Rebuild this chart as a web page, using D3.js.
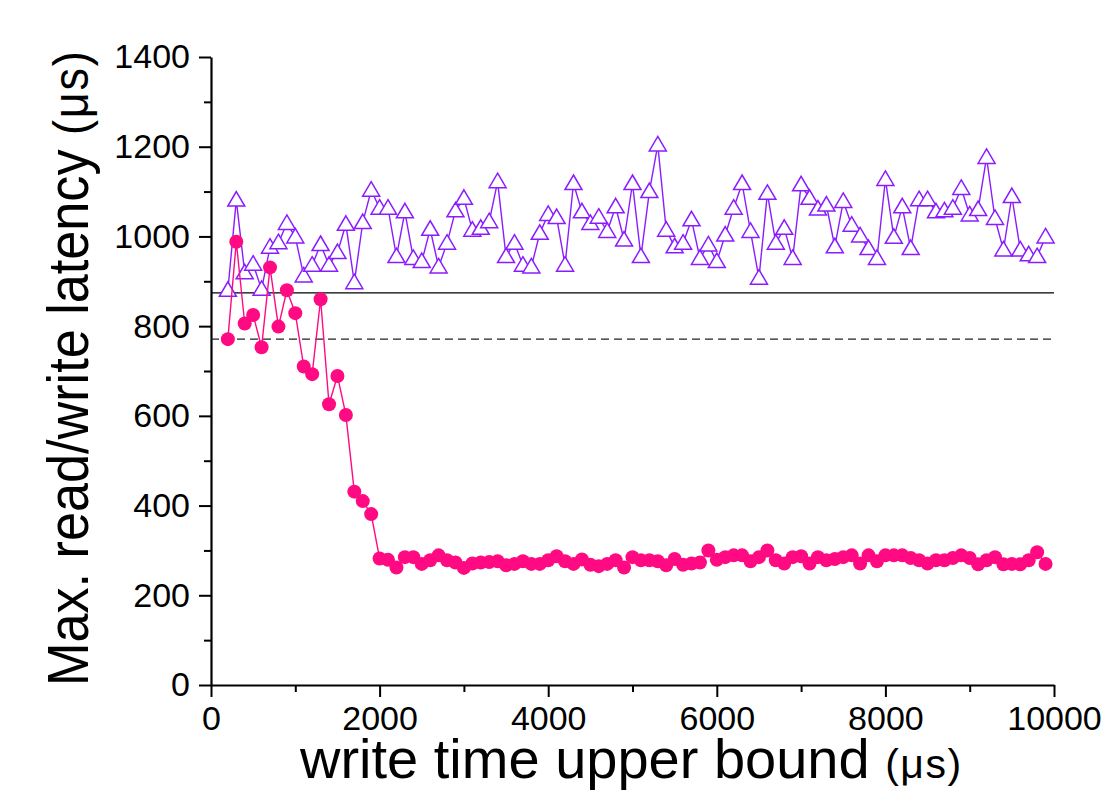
<!DOCTYPE html>
<html>
<head>
<meta charset="utf-8">
<script src="https://cdn.jsdelivr.net/npm/d3@7"></script>
<style>
	body { margin: 0; background: #fff; }
	svg text { font-family: "Liberation Sans", Arial, sans-serif; fill: #000; }
</style>
</head>
<body>
<svg id="grafica" width="1103" height="810"></svg>
<script>
// write time upper bound (x), one value every 100 us
var cotas = [200, 300, 400, 500, 600, 700, 800, 900, 1000, 1100, 1200, 1300, 1400, 1500, 1600, 1700, 1800, 1900,
	2000, 2100, 2200, 2300, 2400, 2500, 2600, 2700, 2800, 2900, 3000, 3100, 3200, 3300, 3400, 3500, 3600, 3700, 3800, 3900,
	4000, 4100, 4200, 4300, 4400, 4500, 4600, 4700, 4800, 4900, 5000, 5100, 5200, 5300, 5400, 5500, 5600, 5700, 5800, 5900,
	6000, 6100, 6200, 6300, 6400, 6500, 6600, 6700, 6800, 6900, 7000, 7100, 7200, 7300, 7400, 7500, 7600, 7700, 7800, 7900,
	8000, 8100, 8200, 8300, 8400, 8500, 8600, 8700, 8800, 8900, 9000, 9100, 9200, 9300, 9400, 9500, 9600, 9700, 9800, 9900];

// purple triangles
var triangulos = [880, 1081, 919, 938, 882, 976, 986, 1029, 999, 912, 936, 982, 936, 964, 1027, 897, 1031, 1103,
	1063, 1063, 955, 1055, 951, 944, 1016, 932, 985, 1057, 1085, 1014, 1018, 1033, 1122, 955, 985, 936, 932, 1007,
	1049, 1042, 936, 1118, 1055, 1029, 1043, 1011, 1066, 992, 1118, 955, 1100, 1204, 1014, 977, 985, 1037, 951, 981,
	944, 1003, 1063, 1118, 1011, 907, 1096, 985, 1018, 951, 1115, 1085, 1061, 1070, 977, 1078, 1025, 1001, 973, 951,
	1127, 998, 1066, 973, 1082, 1082, 1055, 1057, 1063, 1107, 1048, 1060, 1176, 1040, 970, 1089, 970, 959, 955, 999];

// pink dots
var circulos = [771, 988, 806, 825, 753, 931, 799, 880, 829, 710, 693, 860, 626, 689, 602, 431, 410, 381,
	282, 279, 262, 285, 285, 270, 278, 289, 278, 273, 261, 271, 273, 274, 276, 267, 270, 276, 270, 270,
	278, 287, 276, 270, 280, 268, 265, 270, 278, 262, 285, 278, 278, 276, 267, 281, 268, 271, 273, 300,
	279, 285, 289, 289, 276, 285, 300, 278, 271, 285, 287, 271, 285, 278, 281, 285, 289, 271, 289, 276,
	289, 289, 289, 283, 278, 271, 278, 278, 283, 289, 283, 269, 278, 285, 269, 270, 269, 278, 296, 270];

// reference levels (solid / dashed)
var lineaSolida = 874;
var lineaDiscontinua = 771;

var ticksX = [0, 2000, 4000, 6000, 8000, 10000];
var ticksXmenores = [1000, 3000, 5000, 7000, 9000];
var ticksY = [0, 200, 400, 600, 800, 1000, 1200, 1400];
var ticksYmenores = [100, 300, 500, 700, 900, 1100, 1300];

var colorMorado = "#8a1cff",
	colorRosa = "#ff0a82";

var sv = d3.select("#grafica");
var x = d3.scaleLinear().domain([0, 10000]).range([211, 1054]);
var y = d3.scaleLinear().domain([0, 1400]).range([685, 57]);

// minor ticks first so the axes draw on top
sv.append("g")
	.attr("transform", "translate(0,685)")
	.call(d3.axisBottom(x).tickValues(ticksXmenores).tickSize(7).tickFormat(""))
	.call(function(g){ g.select(".domain").remove(); })
	.selectAll("line").attr("stroke-width", 2);
sv.append("g")
	.attr("transform", "translate(211,0)")
	.call(d3.axisLeft(y).tickValues(ticksYmenores).tickSize(7).tickFormat(""))
	.call(function(g){ g.select(".domain").remove(); })
	.selectAll("line").attr("stroke-width", 2);

var ejeX = sv.append("g")
	.attr("transform", "translate(0,685)")
	.call(d3.axisBottom(x).tickValues(ticksX).tickSize(12).tickSizeOuter(0).tickPadding(9).tickFormat(d3.format("d")));
var ejeY = sv.append("g")
	.attr("transform", "translate(211,0)")
	.call(d3.axisLeft(y).tickValues(ticksY).tickSize(12).tickSizeOuter(0).tickPadding(9).tickFormat(d3.format("d")));

[ejeX, ejeY].forEach(function(e){
	e.select(".domain").attr("stroke-width", 2.2);
	e.selectAll(".tick line").attr("stroke-width", 2);
	e.selectAll(".tick text")
		.style("font-size", "34px")
		.style("font-family", "'Liberation Sans', Arial, sans-serif")
		.attr("fill", "#000");
});

// horizontal reference lines
sv.append("line")
	.attr("x1", x(0)).attr("x2", x(10000))
	.attr("y1", y(lineaSolida)).attr("y2", y(lineaSolida))
	.attr("stroke", "#000").attr("stroke-width", 1.3);
sv.append("line")
	.attr("x1", x(0)).attr("x2", x(10000))
	.attr("y1", y(lineaDiscontinua)).attr("y2", y(lineaDiscontinua))
	.attr("stroke", "#222").attr("stroke-width", 1.3)
	.attr("stroke-dasharray", "8,5");

// purple series
var datosMorado = cotas.map(function(c, i){ return {x: c, y: triangulos[i]}; });
var linea = d3.line()
	.x(function(d){ return x(d.x); })
	.y(function(d){ return y(d.y); });

sv.append("path")
	.datum(datosMorado)
	.attr("d", linea)
	.attr("fill", "none")
	.attr("stroke", colorMorado)
	.attr("stroke-width", 1.4);

sv.selectAll(".tri")
	.data(datosMorado)
	.enter().append("path")
	.attr("class", "tri")
	.attr("d", "M0,-8.5L8.5,6L-8.5,6Z")
	.attr("transform", function(d){ return "translate(" + x(d.x) + "," + y(d.y) + ")"; })
	.attr("fill", "#fff")
	.attr("stroke", colorMorado)
	.attr("stroke-width", 1.5);

// pink series
var datosRosa = cotas.map(function(c, i){ return {x: c, y: circulos[i]}; });
sv.append("path")
	.datum(datosRosa)
	.attr("d", linea)
	.attr("fill", "none")
	.attr("stroke", colorRosa)
	.attr("stroke-width", 1.4);

sv.selectAll(".dot")
	.data(datosRosa)
	.enter().append("circle")
	.attr("class", "dot")
	.attr("cx", function(d){ return x(d.x); })
	.attr("cy", function(d){ return y(d.y); })
	.attr("r", 7)
	.attr("fill", colorRosa);

// axis titles
var tituloX = sv.append("text")
	.attr("x", 300)
	.attr("y", 778)
	.style("font-size", "56px");
tituloX.append("tspan").text("write time upper bound ");
tituloX.append("tspan").style("font-size", "41px").style("letter-spacing", "1.5px").text("(μs)");

// the y title is a bit condensed along its length in the reference
var tituloY = sv.append("text")
	.attr("transform", "translate(88,686) rotate(-90) scale(0.9,1)")
	.style("font-size", "58px");
tituloY.append("tspan").text("Max. read/write latency ");
tituloY.append("tspan").style("font-size", "50px").style("letter-spacing", "2px").text("(μs)");
</script>
</body>
</html>
